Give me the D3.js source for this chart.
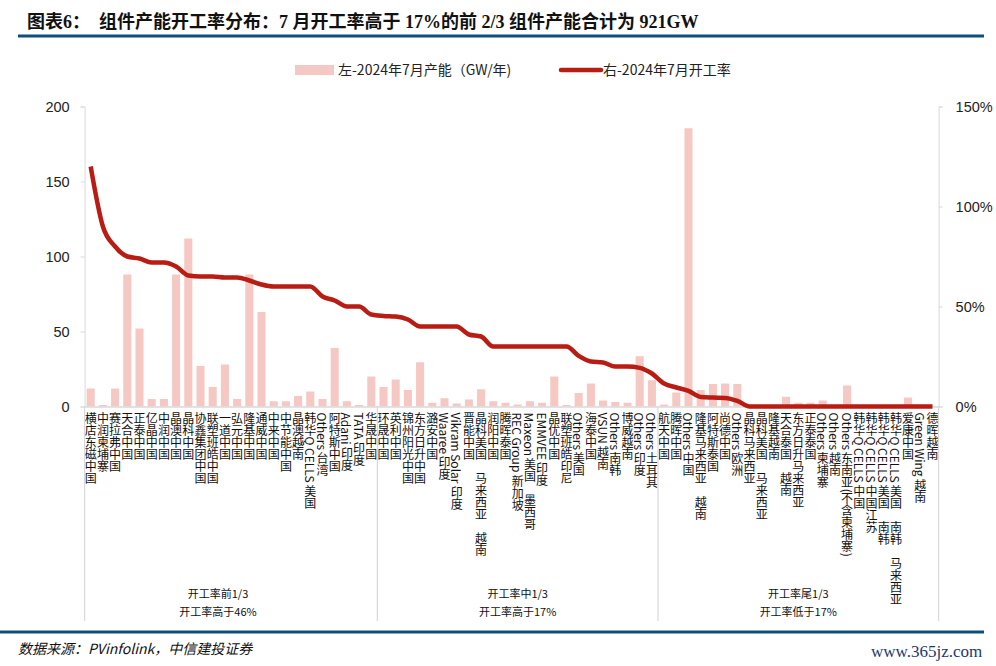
<!DOCTYPE html>
<html><head><meta charset="utf-8">
<script src="https://cdn.jsdelivr.net/npm/d3@7"></script>
<style>body{margin:0;background:#fff} svg{display:block}</style>
</head><body><svg id="c" width="996" height="666"></svg>
<script>
const categories = [
"横店东磁中国","中润柬埔寨","赛拉弗中国","天合中国","正泰中国","亿晶中国","中润中国","晶澳中国","晶科中国","协鑫集团中国",
"联塑班皓中国","一道中国","弘元中国","隆基中国","通威中国","中来中国","中节能中国","晶澳越南","韩华Q CELLS 美国","Others 台湾",
"阿特斯中国","Adani 印度","TATA 印度","华晟中国",
"环晟中国","英利中国","锦州阳光中国","东方日升中国","潞安中国","Waaree 印度","Vikram Solar 印度","晋能中国","晶科美国　马来西亚　越南","润阳中国",
"腾晖泰国","REC Group 新加坡","Maxeon 美国　墨西哥","EMMVEE 印度","晶优中国","联塑班皓印尼","Others 美国","海泰中国","VSUN 越南","Others 南韩",
"博威越南","Others 印度","Others 土耳其",
"航天中国","腾晖中国","Others 中国","隆基马来西亚　越南","阿特斯泰国","尚德中国","Others 欧洲","晶科马来西亚","晶科美国　马来西亚","隆基越南",
"天合泰国　越南","东方日升马来西亚","正泰泰国","Others 柬埔寨","Others 越南","Others 东南亚(不含柬埔寨)","韩华Q CELLS 中国","韩华Q CELLS 中国江苏","韩华Q CELLS 美国　南韩","韩华Q CELLS 美国　南韩　马来西亚",
"爱康中国","Green Wing 越南","德晖越南"
];
const capacity = [
12,1,12,88,52,5,5,88,112,27,
13,28,5,88,63,3.5,3.5,7,10,5,
39,3.5,1,20,
13,18,11,29.5,2.5,5.5,2,4.7,11.5,3.5,
2.5,1.3,3.5,2.5,20,1,9,15.3,4,3,
2.5,33.5,17.5,
1.3,9.3,185.5,11,15,15.3,15,0.5,0.5,0.5,
6.5,2.5,2.5,4,0.5,14,1,0.3,0.3,0.3,
6,0.3,0.3
];
const utilization = [
120,90,80,75,74,72,72,70,65.5,65,
65,64.5,64.5,63,61,60,60,60,60,55,
53,50,50,46,
45.3,45,43.5,40,40,40,40,36,35,30,
30,30,30,30,30,30,25.3,22.5,22,20,
20,19.3,16.5,
11.5,9.5,7.8,4.8,4.5,4.3,2.8,0,0,0,
0,0,0,0,0,0,0,0,0,0,
0,0,0
];
const leftTicks = [0,50,100,150,200];
const rightTicks = [0,50,100,150];
const groupSizes = [24,23,23];
const groupLine1 = ["开工率前1/3","开工率中1/3","开工率尾1/3"];
const groupLine2 = ["开工率高于46%","开工率高于17%","开工率低于17%"];
const legendLabels = ["左-2024年7月产能（GW/年)","右-2024年7月开工率"];
const titleText = "图表6：  组件产能开工率分布：7 月开工率高于 17%的前 2/3 组件产能合计为 921GW";
const sourceText = "数据来源：PVinfolink，中信建投证券";

const svg = d3.select("#c");
const barColor = "#f6c8c3", lineColor = "#b81c13", blue = "#0d4f7b", grid = "#d9d9d9";
const cjk = "'Noto Sans CJK SC', 'Noto Sans', sans-serif";

const x0 = 84.6, x1 = 938.6, yTop = 106.5, yBot = 406.5;
const x = d3.scaleBand().domain(d3.range(categories.length)).range([x0, x1]).paddingInner(0.34).paddingOuter(0.17);
const yL = d3.scaleLinear().domain([0,200]).range([yBot, yTop]);
const yR = d3.scaleLinear().domain([0,150]).range([yBot, yTop]);

// title
svg.append("text").attr("x",27).attr("y",28).attr("font-family","'Liberation Serif', 'Noto Sans CJK SC', serif")
  .attr("font-weight","bold").attr("font-size",18).attr("fill","#111").attr("xml:space","preserve").style("white-space","pre").text(titleText);
svg.append("line").attr("x1",18).attr("x2",984).attr("y1",36).attr("y2",36).attr("stroke",blue).attr("stroke-width",3);

// legend
svg.append("rect").attr("x",295).attr("y",65).attr("width",39).attr("height",10).attr("fill",barColor);
svg.append("text").attr("x",338).attr("y",75).attr("font-family",cjk).attr("font-size",14).attr("fill","#222").text(legendLabels[0]);
svg.append("line").attr("x1",561).attr("x2",601).attr("y1",70).attr("y2",70).attr("stroke",lineColor).attr("stroke-width",4.5).attr("stroke-linecap","round");
svg.append("text").attr("x",603).attr("y",75).attr("font-family",cjk).attr("font-size",14).attr("fill","#222").text(legendLabels[1]);

// bars
svg.append("g").selectAll("rect").data(capacity).join("rect")
  .attr("x",(d,i)=>x(i)).attr("width",x.bandwidth())
  .attr("y",d=>yL(d)).attr("height",d=>yBot-yL(d)).attr("fill",barColor);

// left axis
const gL = svg.append("g").attr("transform",`translate(${x0},0)`)
  .call(d3.axisLeft(yL).tickValues(leftTicks).tickSize(4).tickPadding(11));
gL.select(".domain").attr("stroke",grid);
gL.selectAll(".tick line").attr("stroke",grid);
gL.selectAll("text").attr("font-family","'Liberation Sans', sans-serif").attr("font-size",14.5).attr("fill","#222");

// right axis
const gR = svg.append("g").attr("transform",`translate(${x1},0)`)
  .call(d3.axisRight(yR).tickValues(rightTicks).tickSize(4).tickPadding(13).tickFormat(d=>d+"%"));
gR.select(".domain").attr("stroke",grid);
gR.selectAll(".tick line").attr("stroke",grid);
gR.selectAll("text").attr("font-family","'Liberation Sans', sans-serif").attr("font-size",14.5).attr("fill","#222");

// bottom axis
const gB = svg.append("g").attr("transform",`translate(0,${yBot})`)
  .call(d3.axisBottom(x).tickSize(0).tickFormat(i=>categories[i]));
gB.select(".domain").attr("stroke",grid).attr("stroke-width",1.5);
gB.selectAll("text").attr("y",6).attr("dy",null).attr("text-anchor","start")
  .style("writing-mode","vertical-rl").attr("font-family",cjk).attr("font-size",12).attr("fill","#111");

// group separators
const bounds = [0];
groupSizes.forEach(s=>bounds.push(bounds[bounds.length-1]+s));
const step = x.step();
const sepX = bounds.map(b => x0 + b*step);
svg.append("g").selectAll("line").data(sepX).join("line")
  .attr("x1",d=>d).attr("x2",d=>d).attr("y1",yBot).attr("y2",621).attr("stroke",grid).attr("stroke-width",1.2);
const shift = [-13,0,0];
groupLine1.forEach((t,i)=>{
  const cx = (sepX[i]+sepX[i+1])/2 + shift[i];
  svg.append("text").attr("x",cx).attr("y",598).attr("text-anchor","middle").attr("font-family",cjk).attr("font-size",11).attr("fill","#111").text(t);
  svg.append("text").attr("x",cx).attr("y",616).attr("text-anchor","middle").attr("font-family",cjk).attr("font-size",11).attr("fill","#111").text(groupLine2[i]);
});

// line
const line = d3.line().x((d,i)=>x(i)+x.bandwidth()/2).y(d=>yR(d)).curve(d3.curveMonotoneX);
svg.append("path").datum(utilization).attr("d",line).attr("fill","none").attr("stroke",lineColor).attr("stroke-width",4.5).attr("stroke-linejoin","round");

// footer
svg.append("line").attr("x1",0).attr("x2",984).attr("y1",632).attr("y2",632).attr("stroke",blue).attr("stroke-width",3);
svg.append("text").attr("x",18).attr("y",654).attr("font-family",cjk).attr("font-style","italic").attr("font-size",14).attr("fill","#111").text(sourceText);
svg.append("text").attr("x",871).attr("y",657).attr("font-family","'Liberation Serif', serif").attr("font-size",17).attr("fill","#1d3a6b").text("www.365jz.com");
</script>
</body></html>
